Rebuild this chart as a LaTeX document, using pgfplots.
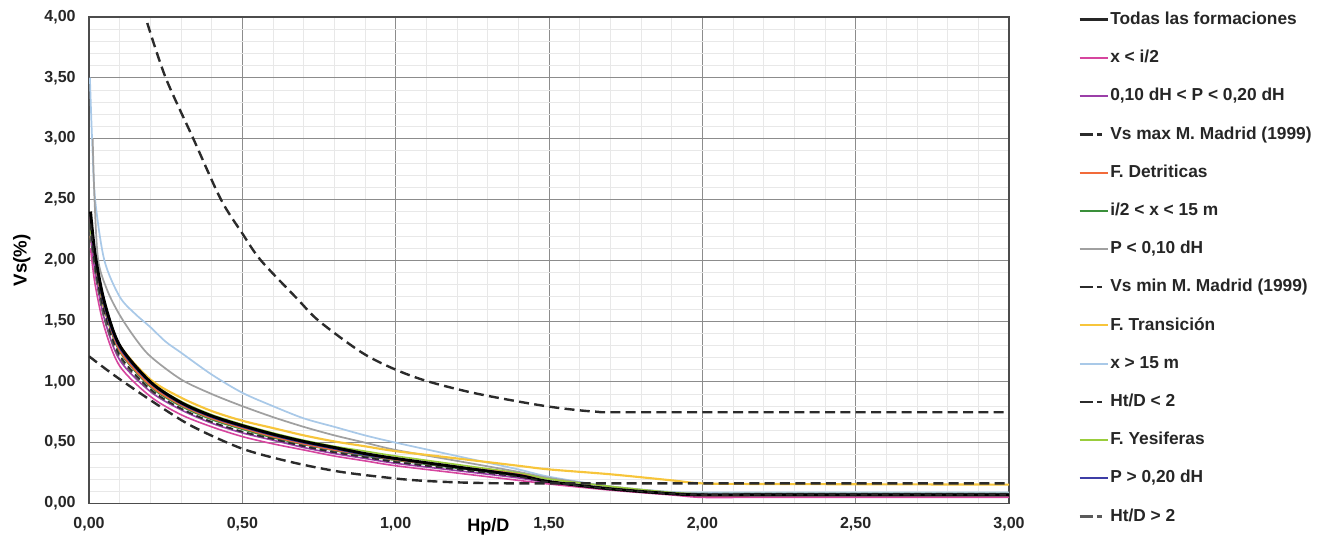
\documentclass[border=0pt]{standalone}
\usepackage{fontspec}
\setmainfont{Liberation Sans}
\usepackage{pgfplots}
\usepackage{pgfplotstable}
\pgfplotsset{compat=1.18}

\definecolor{cpink}{HTML}{D6459E}
\definecolor{cpurple}{HTML}{9B3FA8}
\definecolor{corange}{HTML}{F26B3A}
\definecolor{cgreen}{HTML}{3A8F3A}
\definecolor{cgray}{HTML}{A0A0A0}
\definecolor{cyellow}{HTML}{F7C53B}
\definecolor{clblue}{HTML}{A9C9E8}
\definecolor{cyes}{HTML}{9ACD3C}
\definecolor{cblue}{HTML}{3D3DA6}
\definecolor{cdark}{HTML}{2B2B2B}
\definecolor{cdgray}{HTML}{5A5A5A}

% cluster of curves on a common grid
\pgfplotstableread{
x     todas xi2   p1020 detr  i2x15 yes   p20   htlt  htgt  trans
0.005 2.40  2.10  2.20  2.35  2.30  2.25  2.35  2.30  2.20  2.20
0.02  2.05  1.80  1.90  2.00  1.98  2.00  2.02  1.95  1.90  1.95
0.05  1.66  1.45  1.52  1.62  1.60  1.63  1.63  1.57  1.52  1.60
0.10  1.30  1.13  1.18  1.26  1.25  1.28  1.28  1.22  1.20  1.30
0.20  1.00  0.88  0.92  0.97  0.96  1.00  0.99  0.94  0.93  1.02
0.30  0.83  0.73  0.77  0.81  0.80  0.84  0.82  0.78  0.78  0.87
0.40  0.72  0.63  0.66  0.70  0.69  0.73  0.71  0.67  0.67  0.76
0.50  0.64  0.55  0.58  0.62  0.61  0.65  0.63  0.59  0.59  0.68
0.60  0.57  0.49  0.52  0.55  0.54  0.58  0.56  0.53  0.53  0.62
0.70  0.51  0.44  0.46  0.49  0.485 0.52  0.50  0.47  0.475 0.56
0.80  0.46  0.39  0.41  0.44  0.435 0.47  0.45  0.42  0.425 0.51
0.90  0.41  0.35  0.37  0.40  0.39  0.43  0.40  0.38  0.385 0.47
1.00  0.37  0.31  0.33  0.36  0.355 0.39  0.365 0.34  0.345 0.43
1.20  0.30  0.25  0.27  0.30  0.29  0.32  0.30  0.28  0.285 0.37
1.40  0.23  0.19  0.21  0.24  0.23  0.25  0.235 0.22  0.225 0.31
1.50  0.18  0.16  0.17  0.18  0.18  0.20  0.18  0.175 0.18  0.28
1.70  0.12  0.11  0.12  0.12  0.12  0.14  0.12  0.12  0.125 0.24
1.90  0.08  0.07  0.08  0.08  0.08  0.09  0.08  0.08  0.085 0.19
2.00  0.07  0.05  0.065 0.065 0.07  0.08  0.075 0.07  0.08  0.165
2.20  0.07  0.05  0.065 0.065 0.07  0.08  0.075 0.07  0.08  0.16
3.00  0.07  0.05  0.065 0.065 0.07  0.08  0.075 0.07  0.08  0.155
}\tclust

\pgfplotstableread{
x     y
0.003 3.50
0.01  3.00
0.02  2.50
0.05  2.00
0.10  1.70
0.15  1.56
0.20  1.45
0.25  1.33
0.30  1.24
0.40  1.06
0.50  0.91
0.60  0.80
0.70  0.70
0.80  0.63
0.90  0.56
1.00  0.50
1.20  0.39
1.40  0.28
1.50  0.22
1.70  0.14
1.90  0.095
2.00  0.09
2.20  0.09
3.00  0.09
}\tlblue

\pgfplotstableread{
x     y
0.012 3.00
0.018 2.50
0.03  2.00
0.06  1.75
0.10  1.55
0.15  1.36
0.20  1.21
0.30  1.02
0.40  0.90
0.50  0.80
0.60  0.71
0.70  0.63
0.80  0.56
0.90  0.50
1.00  0.44
1.20  0.35
1.40  0.26
1.50  0.21
1.70  0.14
1.90  0.09
2.00  0.08
2.20  0.08
3.00  0.08
}\tgray

\pgfplotstableread{
x     y
0.19  3.95
0.25  3.50
0.34  3.00
0.43  2.50
0.50  2.22
0.56  2.00
0.68  1.68
0.75  1.50
0.89  1.24
1.00  1.10
1.11  1.00
1.27  0.90
1.49  0.80
1.65  0.755
1.80  0.75
3.00  0.75
}\tvsmax

\pgfplotstableread{
x     y
0.00  1.21
0.09  1.04
0.23  0.80
0.34  0.63
0.50  0.45
0.66  0.34
0.82  0.26
1.00  0.205
1.10  0.185
1.25  0.17
1.50  0.165
3.00  0.165
}\tvsmin

\begin{document}
\begin{tikzpicture}
\useasboundingbox (-66.75pt,-25.9pt) rectangle (924.75pt,377.6pt);
\begin{axis}[
  at={(0pt,0pt)}, anchor=south west,
  scale only axis, width=690pt, height=364.9pt,
  xmin=0, xmax=3, ymin=0, ymax=4,
  xtick={0,0.5,1,1.5,2,2.5,3},
  ytick={0,0.5,1,1.5,2,2.5,3,3.5,4},
  minor x tick num=4, minor y tick num=4,
  grid=both,
  major grid style={draw=black!45, line width=0.6pt},
  minor grid style={draw=black!9, line width=0.5pt},
  tick style={draw=none},
  axis line style={draw=black!70, line width=1.2pt},
  /pgf/number format/.cd, fixed, fixed zerofill, precision=2, use comma, assume math mode=true,
  /pgfplots/.cd,
  ticklabel style={font=\bfseries\fontsize{12}{14}\selectfont, text=black!85},
  xticklabel style={anchor=base, yshift=-18.9pt},
  yticklabel style={anchor=east, xshift=-6.5pt},
  xlabel={Hp/D}, ylabel={Vs(\%)},
  every axis x label/.style={at={(axis description cs:0.434,-0.049)}, anchor=center, font=\bfseries\fontsize{13.5}{15}\selectfont},
  every axis y label/.style={at={(axis description cs:-0.073,0.5)}, rotate=90, anchor=center, font=\bfseries\fontsize{14}{16}\selectfont},
  legend image code/.code={\draw[#1] (0pt,0pt) -- (21pt,0pt);},
  legend cell align=left,
  legend style={at={(axis description cs:1.075,1.0125)}, anchor=north west,
    draw=none, fill=none, inner sep=0pt, row sep=15.65pt,
    font=\bfseries\fontsize{13}{15}\selectfont, text=black!85,
    nodes={inner sep=0pt, text height=10pt, text depth=3pt},
    /tikz/every odd column/.append style={column sep=1pt}},
  every axis plot/.append style={smooth, forget plot},
]
% legend
\addlegendimage{black!85, line width=2pt}\addlegendentry{Todas las formaciones}
\addlegendimage{cpink, line width=1.5pt}\addlegendentry{x < i/2}
\addlegendimage{cpurple, line width=1.5pt}\addlegendentry{0,10 dH < P < 0,20 dH}
\addlegendimage{cdark, line width=1.8pt, dash pattern=on 10pt off 3pt on 4pt off 30pt}\addlegendentry{Vs max M. Madrid (1999)}
\addlegendimage{corange, line width=1.5pt}\addlegendentry{F. Detriticas}
\addlegendimage{cgreen, line width=1.5pt}\addlegendentry{i/2 < x < 15 m}
\addlegendimage{cgray, line width=1.5pt}\addlegendentry{P < 0,10 dH}
\addlegendimage{cdark, line width=1.8pt, dash pattern=on 10pt off 3pt on 4pt off 30pt}\addlegendentry{Vs min M. Madrid (1999)}
\addlegendimage{cyellow, line width=1.5pt}\addlegendentry{F. Transición}
\addlegendimage{clblue, line width=1.5pt}\addlegendentry{x > 15 m}
\addlegendimage{cdark, line width=1.8pt, dash pattern=on 10pt off 3pt on 4pt off 30pt}\addlegendentry{Ht/D < 2}
\addlegendimage{cyes, line width=1.5pt}\addlegendentry{F. Yesiferas}
\addlegendimage{cblue, line width=1.5pt}\addlegendentry{P > 0,20 dH}
\addlegendimage{cdgray, line width=1.8pt, dash pattern=on 10pt off 3pt on 4pt off 30pt}\addlegendentry{Ht/D > 2}
% curves
\addplot[clblue, line width=1.3pt] table[x=x,y=y] {\tlblue};
\addplot[cgray, line width=1.3pt] table[x=x,y=y] {\tgray};
\addplot[cyellow, line width=1.6pt] table[x=x,y=trans] {\tclust};
\addplot[cyes, line width=1.2pt] table[x=x,y=yes] {\tclust};
\addplot[cgreen, line width=1.2pt] table[x=x,y=i2x15] {\tclust};
\addplot[corange, line width=1.4pt] table[x=x,y=detr] {\tclust};
\addplot[cblue, line width=1.4pt] table[x=x,y=p20] {\tclust};
\addplot[cpurple, line width=1.2pt] table[x=x,y=p1020] {\tclust};
\addplot[cpink, line width=1.2pt] table[x=x,y=xi2] {\tclust};
\addplot[cdgray, line width=1.2pt, dash pattern=on 5pt off 3pt] table[x=x,y=htgt] {\tclust};
\addplot[black, line width=2.2pt] table[x=x,y=todas] {\tclust};
\addplot[cdark, line width=1.2pt, dash pattern=on 5pt off 3pt] table[x=x,y=htlt] {\tclust};
\addplot[cdark, line width=1.8pt, dash pattern=on 7.5pt off 4pt] table[x=x,y=y] {\tvsmin};
\addplot[cdark, line width=1.8pt, dash pattern=on 7.5pt off 4pt] table[x=x,y=y] {\tvsmax};
\end{axis}
\end{tikzpicture}
\end{document}
